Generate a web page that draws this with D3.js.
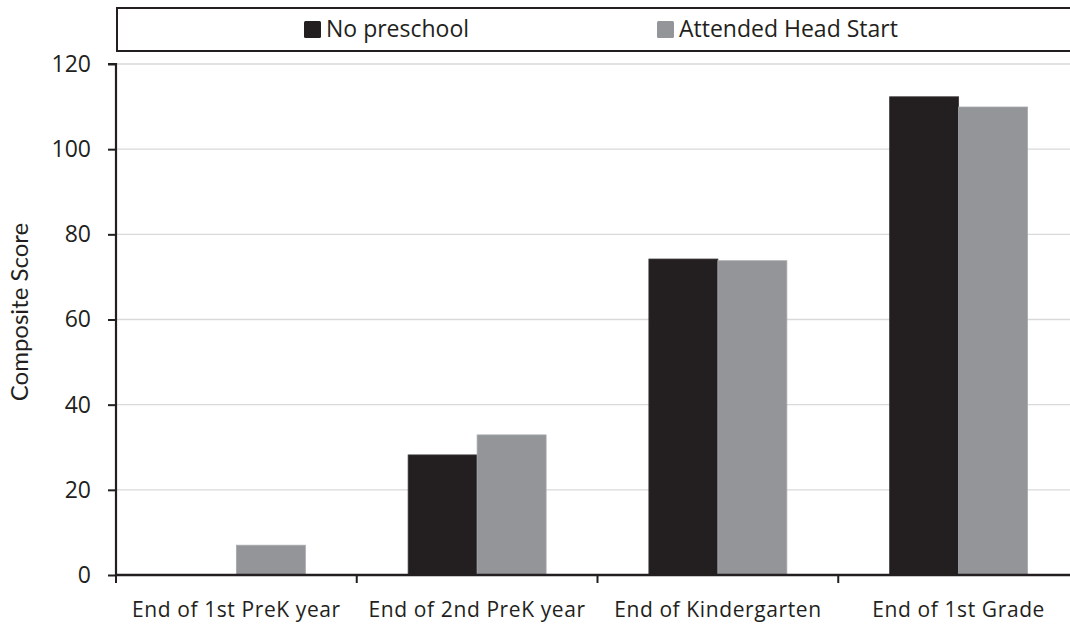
<!DOCTYPE html>
<html><head><meta charset="utf-8">
<script src="https://cdn.jsdelivr.net/npm/d3@7"></script>
<style>body{margin:0;background:#fff;} svg{display:block;}</style>
</head><body>
<svg id="c" width="1070" height="625"></svg>
<script>
const categories = ["End of 1st PreK year", "End of 2nd PreK year", "End of Kindergarten", "End of 1st Grade"];
const seriesNames = ["No preschool", "Attended Head Start"];
const noPreschool = [0, 28.2, 74.2, 112.3];
const headStart = [7.0, 32.9, 73.8, 109.9];
const yTicks = [0, 20, 40, 60, 80, 100, 120];
const colors = ["#231f20", "#939598"];

const svg = d3.select("#c");
const font = "'Open Sans', sans-serif";
const x0 = 116, x1 = 1079, yTop = 64, yBot = 575;

const x = d3.scaleBand().domain(categories).range([x0, x1]).paddingInner(0).paddingOuter(0);
const xs = d3.scaleBand().domain(seriesNames).range([0, x.bandwidth()]).paddingInner(0).paddingOuter(0.745);
const y = d3.scaleLinear().domain([0, 120]).range([yBot, yTop]);

const defs = svg.append("defs");
const f = defs.append("filter").attr("id", "sh").attr("x", "-5%").attr("y", "-200%").attr("width", "110%").attr("height", "500%");
f.append("feGaussianBlur").attr("stdDeviation", 2.5);

// gridlines
svg.append("g").selectAll("line").data(yTicks.filter(d => d > 0)).join("line")
  .attr("x1", x0).attr("x2", 1070).attr("y1", d => y(d)).attr("y2", d => y(d))
  .attr("stroke", "#d9d9d9").attr("stroke-width", 1.3);

// shadow under x axis
svg.append("line").attr("x1", x0).attr("x2", 1070).attr("y1", yBot + 4).attr("y2", yBot + 4)
  .attr("stroke", "#9a9a9a").attr("stroke-width", 4).attr("filter", "url(#sh)").attr("opacity", 0.8);

// bars
const data = categories.map((c, i) => ({c, vals: [noPreschool[i], headStart[i]]}));
const g = svg.append("g");
data.forEach(d => {
  d.vals.forEach((v, j) => {
    if (v <= 0) return;
    g.append("rect")
      .attr("x", x(d.c) + xs(seriesNames[j]))
      .attr("y", y(v))
      .attr("width", xs.bandwidth())
      .attr("height", y(0) - y(v))
      .attr("fill", colors[j])
      .attr("stroke", j === 0 ? "#3a3637" : "#a7a9ac").attr("stroke-width", 0.8);
  });
});

// y axis
const yAxis = d3.axisLeft(y).tickValues(yTicks).tickSize(8).tickPadding(17);
const ya = svg.append("g").attr("transform", `translate(${x0},0)`).call(yAxis);
ya.select(".domain").attr("stroke", "#231f20").attr("stroke-width", 2.2).attr("d", `M-8,${yTop}H0V${yBot}`);
ya.selectAll(".tick line").attr("stroke", "#231f20").attr("stroke-width", 2);
ya.selectAll(".tick text").attr("font-family", font).attr("font-size", 23).attr("fill", "#231f20");

// x axis
const xAxis = d3.axisBottom(x).tickSize(0).tickPadding(27);
const xa = svg.append("g").attr("transform", `translate(0,${yBot})`).call(xAxis);
xa.select(".domain").attr("stroke", "#231f20").attr("stroke-width", 2.5).attr("d", `M${x0},0H1070`);
xa.selectAll(".tick text").attr("font-family", font).attr("font-size", 21).attr("letter-spacing", "0.6px").attr("fill", "#231f20");
// category boundary ticks
const bounds = categories.map(c => x(c));
xa.append("g").selectAll("line").data(bounds).join("line")
  .attr("x1", d => d).attr("x2", d => d).attr("y1", 0).attr("y2", 8)
  .attr("stroke", "#231f20").attr("stroke-width", 2);

// y title
svg.append("text").attr("transform", "translate(28,312) rotate(-90)")
  .attr("text-anchor", "middle").attr("font-family", "'Lato', sans-serif").attr("font-size", 24)
  .attr("fill", "#231f20").text("Composite Score");

// legend box
svg.append("rect").attr("x", 117).attr("y", 8).attr("width", 1000).attr("height", 43)
  .attr("fill", "#fff").attr("stroke", "#231f20").attr("stroke-width", 2);
const legX = [304, 657];
seriesNames.forEach((s, j) => {
  svg.append("rect").attr("x", legX[j]).attr("y", 21).attr("width", 17).attr("height", 17).attr("rx", 1.5)
    .attr("fill", colors[j]);
  svg.append("text").attr("x", legX[j] + 22).attr("y", 37).attr("font-family", font).attr("font-size", 23)
    .attr("fill", "#231f20").text(s);
});
</script>
</body></html>
